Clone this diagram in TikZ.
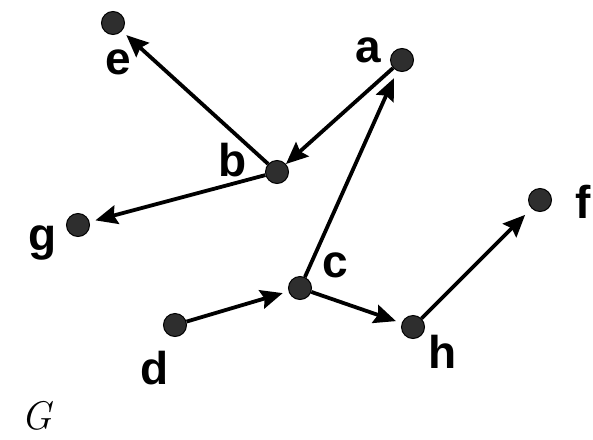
\documentclass[tikz,border=0pt]{standalone}
\usepackage{fontspec}
\setsansfont{Liberation Sans}
\usetikzlibrary{arrows.meta}
\begin{document}
\begin{tikzpicture}[x=1pt,y=-1pt,
  vtx/.style={circle,draw=black,fill=black!82,line width=1pt,inner sep=0pt,minimum size=23pt},
  lbl/.style={font=\sffamily\bfseries\fontsize{46}{46}\selectfont,inner sep=0pt},
  arr/.style={line width=3.8pt,-{Stealth[length=22pt,width=19pt,inset=3pt]},shorten >=6pt}]
\useasboundingbox (0,0) rectangle (593,439);
\node[vtx] (e) at (113,23) {};
\node[vtx] (a) at (402,60) {};
\node[vtx] (b) at (277,172) {};
\node[vtx] (g) at (78,225) {};
\node[vtx] (f) at (540,200) {};
\node[vtx] (c) at (300,288) {};
\node[vtx] (d) at (175,325) {};
\node[vtx] (h) at (413,327) {};
\node[lbl] (le) at (118,62) {e};
\node[lbl] (la) at (368,50) {a};
\node[lbl] (lb) at (233,160) {b};
\node[lbl] (lg) at (43,243) {g};
\node[lbl] (lf) at (583,202) {f};
\node[lbl] (lc) at (335,265) {c};
\node[lbl] (ld) at (155,368) {d};
\node[lbl] (lh) at (443,352) {h};
\node[inner sep=0pt,font=\rmfamily\itshape\fontsize{40}{40}\selectfont] (G) at (37,416) {G};
\draw[arr] (b) -- (e);
\draw[arr,shorten >=0pt] (a) -- (b);
\draw[arr] (b) -- (g);
\draw[arr,shorten >=8pt] (c) -- (a);
\draw[arr] (d) -- (c);
\draw[arr] (c) -- (h);
\draw[arr,shorten >=9pt] (h) -- (f);
\end{tikzpicture}
\end{document}
